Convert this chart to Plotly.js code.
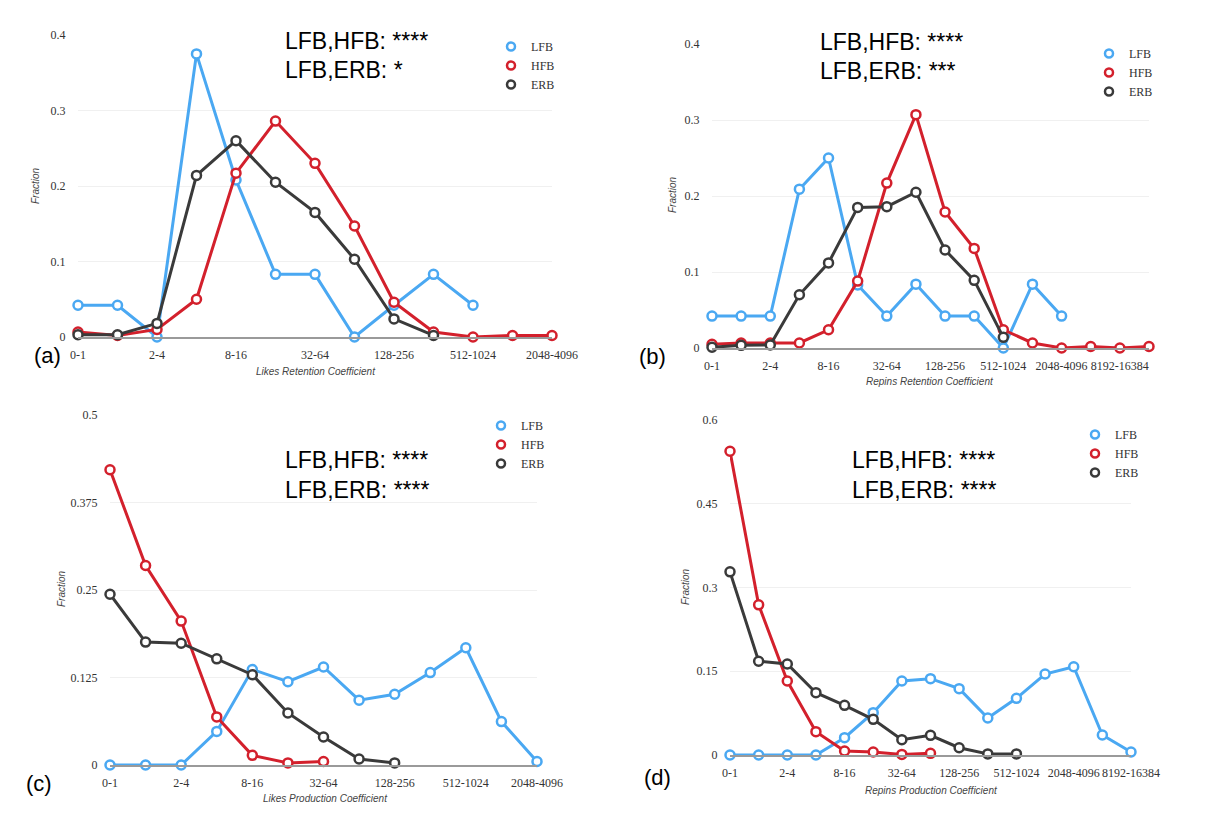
<!DOCTYPE html>
<html>
<head>
<meta charset="utf-8">
<script src="https://cdn.plot.ly/plotly-3.0.1.min.js"></script>
<style>html,body{margin:0;padding:0;background:#fff;}#chart{width:1225px;height:821px;}</style>
</head>
<body>
<div id="chart"></div>
<script>
// ---------- categories ----------
const catsA = ['0-1','1-2','2-4','4-8','8-16','16-32','32-64','64-128','128-256','256-512','512-1024','1024-2048','2048-4096'];
const catsB = ['0-1','1-2','2-4','4-8','8-16','16-32','32-64','64-128','128-256','256-512','512-1024','1024-2048','2048-4096','4096-8192','8192-16384','16384-32768'];
const catsC = ['0-1','1-2','2-4','4-8','8-16','16-32','32-64','64-128','128-256','256-512','512-1024','1024-2048','2048-4096'];
const catsD = ['0-1','1-2','2-4','4-8','8-16','16-32','32-64','64-128','128-256','256-512','512-1024','1024-2048','2048-4096','4096-8192','8192-16384'];

// ---------- series values ----------
// (a) Likes Retention Coefficient
const lfbA = [0.042, 0.042, 0.0, 0.375, 0.208, 0.083, 0.083, 0.0, 0.042, 0.083, 0.042];
const hfbA = [0.0066, 0.002, 0.01, 0.05, 0.217, 0.286, 0.23, 0.147, 0.046, 0.0066, 0.0, 0.002, 0.002];
const erbA = [0.003, 0.003, 0.018, 0.214, 0.26, 0.205, 0.165, 0.103, 0.024, 0.002];
// (b) Repins Retention Coefficient
const lfbB = [0.042, 0.042, 0.042, 0.209, 0.25, 0.083, 0.042, 0.084, 0.042, 0.042, 0.0, 0.084, 0.042];
const hfbB = [0.005, 0.0066, 0.0066, 0.0066, 0.024, 0.088, 0.217, 0.307, 0.179, 0.131, 0.024, 0.0066, 0.0, 0.002, 0.0, 0.002];
const erbB = [0.001, 0.0035, 0.004, 0.07, 0.112, 0.185, 0.186, 0.205, 0.129, 0.089, 0.014];
// (c) Likes Production Coefficient
const lfbC = [0.0, 0.0, 0.0, 0.048, 0.1365, 0.119, 0.140, 0.0926, 0.101, 0.132, 0.1675, 0.062, 0.005];
const hfbC = [0.4218, 0.285, 0.2056, 0.0687, 0.0138, 0.003, 0.005];
const erbC = [0.244, 0.1756, 0.174, 0.1517, 0.129, 0.0744, 0.040, 0.0086, 0.003];
// (d) Repins Production Coefficient
const lfbD = [0.0, 0.0, 0.0, 0.0, 0.031, 0.0758, 0.1325, 0.1367, 0.1188, 0.0663, 0.1015, 0.145, 0.158, 0.0358, 0.0054];
const hfbD = [0.544, 0.269, 0.1325, 0.0418, 0.0072, 0.0054, 0.001, 0.003];
const erbD = [0.328, 0.168, 0.163, 0.1116, 0.089, 0.0639, 0.0275, 0.0352, 0.013, 0.002, 0.002];

// ---------- tick labels ----------
const yTicksA = [0, 0.1, 0.2, 0.3, 0.4];
const yTextA  = ['0', '0.1', '0.2', '0.3', '0.4'];
const yTicksB = [0, 0.1, 0.2, 0.3, 0.4];
const yTextB  = ['0', '0.1', '0.2', '0.3', '0.4'];
const yTicksC = [0, 0.125, 0.25, 0.375, 0.5];
const yTextC  = ['0', '0.125', '0.25', '0.375', '0.5'];
const yTicksD = [0, 0.15, 0.3, 0.45, 0.6];
const yTextD  = ['0', '0.15', '0.3', '0.45', '0.6'];

const seriesNames = ['LFB', 'HFB', 'ERB'];
const statsA = ['LFB,HFB: ****', 'LFB,ERB: *'];
const statsB = ['LFB,HFB: ****', 'LFB,ERB: ***'];
const statsC = ['LFB,HFB: ****', 'LFB,ERB: ****'];
const statsD = ['LFB,HFB: ****', 'LFB,ERB: ****'];
const xTitles = ['Likes Retention Coefficient', 'Repins Retention Coefficient', 'Likes Production Coefficient', 'Repins Production Coefficient'];
const panelLabels = ['(a)', '(b)', '(c)', '(d)'];

// ---------- styling / layout ----------
const W = 1225, H = 821;
const colors = ['#4aa8f2', '#d3202c', '#3a3a3a'];
const serif = 'Liberation Serif, Times New Roman, serif';
const sans = 'Liberation Sans, Arial, sans-serif';

const panels = [
  {cats: catsA, data: [lfbA, hfbA, erbA], yt: yTicksA, ytx: yTextA, ymax: 0.4, px: [78, 552], py: [35, 337], stats: statsA, statX: 283, statY: [41, 70], legX: 491, legY: 32, fracX: 36, fracY: 186, titleX: 316, titleY: 372, lab: [47, 355]},
  {cats: catsB, data: [lfbB, hfbB, erbB], yt: yTicksB, ytx: yTextB, ymax: 0.4, px: [712, 1149], py: [44, 348], stats: statsB, statX: 818, statY: [42, 71], legX: 1089, legY: 39, fracX: 672, fracY: 195, titleX: 930, titleY: 381, lab: [652, 357]},
  {cats: catsC, data: [lfbC, hfbC, erbC], yt: yTicksC, ytx: yTextC, ymax: 0.5, px: [110, 537], py: [415, 765], stats: statsC, statX: 283, statY: [460, 490], legX: 481, legY: 411, fracX: 61, fracY: 589, titleX: 325, titleY: 798, lab: [39, 783]},
  {cats: catsD, data: [lfbD, hfbD, erbD], yt: yTicksD, ytx: yTextD, ymax: 0.6, px: [730, 1131], py: [420, 755], stats: statsD, statX: 850, statY: [460, 490], legX: 1075, legY: 420, fracX: 685, fracY: 587, titleX: 931, titleY: 790, lab: [657, 777]}
];

const traces = [];
const layout = {
  width: W, height: H,
  margin: {l: 0, r: 0, t: 0, b: 0},
  paper_bgcolor: '#fff', plot_bgcolor: '#fff',
  showlegend: true,
  annotations: [],
  font: {family: serif, color: '#333'}
};

panels.forEach((p, i) => {
  const n = i + 1;
  const xa = n === 1 ? 'x' : 'x' + n;
  const ya = n === 1 ? 'y' : 'y' + n;
  const legName = n === 1 ? 'legend' : 'legend' + n;

  layout[n === 1 ? 'xaxis' : 'xaxis' + n] = {
    domain: [p.px[0] / W, p.px[1] / W],
    anchor: ya,
    type: 'category',
    categoryorder: 'array',
    categoryarray: p.cats,
    range: [0, p.cats.length - 1],
    tickvals: p.cats.filter((c, k) => k % 2 === 0),
    ticktext: p.cats.filter((c, k) => k % 2 === 0),
    showgrid: false, zeroline: false,
    showline: true, linecolor: '#9a9a9a', linewidth: 1.5,
    ticks: 'outside', ticklen: 6, tickcolor: 'rgba(0,0,0,0)',
    tickfont: {family: serif, size: 12, color: '#333'},
    fixedrange: true
  };
  layout[n === 1 ? 'yaxis' : 'yaxis' + n] = {
    domain: [1 - p.py[1] / H, 1 - p.py[0] / H],
    anchor: xa,
    range: [0, p.ymax],
    tickvals: p.yt, ticktext: p.ytx,
    showgrid: true, gridcolor: '#f0f0f0', gridwidth: 1,
    zeroline: false, showline: false,
    ticks: 'outside', ticklen: 9, tickcolor: 'rgba(0,0,0,0)',
    tickfont: {family: serif, size: 12, color: '#333'},
    fixedrange: true
  };

  p.data.forEach((vals, s) => {
    traces.push({
      type: 'scatter', mode: 'lines+markers',
      x: p.cats.slice(0, vals.length), y: vals,
      xaxis: xa, yaxis: ya,
      name: seriesNames[s], showlegend: false, cliponaxis: false,
      line: {color: colors[s], width: 3},
      marker: {symbol: 'circle', size: 9, color: '#fff', line: {color: colors[s], width: 2.5}}
    });
  });
  // legend entries (marker only)
  seriesNames.forEach((nm, s) => {
    traces.push({
      type: 'scatter', mode: 'markers',
      x: [null], y: [null], xaxis: xa, yaxis: ya,
      name: nm, legend: legName, showlegend: true,
      marker: {symbol: 'circle', size: 8, color: '#fff', line: {color: colors[s], width: 2.5}}
    });
  });

  layout[legName] = {
    x: p.legX / W, y: 1 - p.legY / H, xanchor: 'left', yanchor: 'top',
    bgcolor: 'rgba(0,0,0,0)', borderwidth: 0,
    font: {family: serif, size: 12, color: '#333'},
    itemclick: false, itemdoubleclick: false
  };

  // stats annotations
  p.stats.forEach((t, k) => {
    layout.annotations.push({
      xref: 'paper', yref: 'paper', x: p.statX / W, y: 1 - p.statY[k] / H,
      xanchor: 'left', yanchor: 'middle', showarrow: false, text: t,
      font: {family: sans, size: 23, color: '#000'}
    });
  });
  // axis titles
  layout.annotations.push({
    xref: 'paper', yref: 'paper', x: p.titleX / W, y: 1 - p.titleY / H,
    xanchor: 'center', yanchor: 'middle', showarrow: false,
    text: '<i>' + xTitles[i] + '</i>', font: {family: sans, size: 10, color: '#444'}
  });
  layout.annotations.push({
    xref: 'paper', yref: 'paper', x: p.fracX / W, y: 1 - p.fracY / H,
    xanchor: 'center', yanchor: 'middle', showarrow: false, textangle: -90,
    text: '<i>Fraction</i>', font: {family: sans, size: 10, color: '#444'}
  });
  // panel label
  layout.annotations.push({
    xref: 'paper', yref: 'paper', x: p.lab[0] / W, y: 1 - p.lab[1] / H,
    xanchor: 'center', yanchor: 'middle', showarrow: false,
    text: panelLabels[i], font: {family: sans, size: 22, color: '#000'}
  });
});

Plotly.newPlot('chart', traces, layout, {staticPlot: true, displayModeBar: false});
</script>
</body>
</html>
